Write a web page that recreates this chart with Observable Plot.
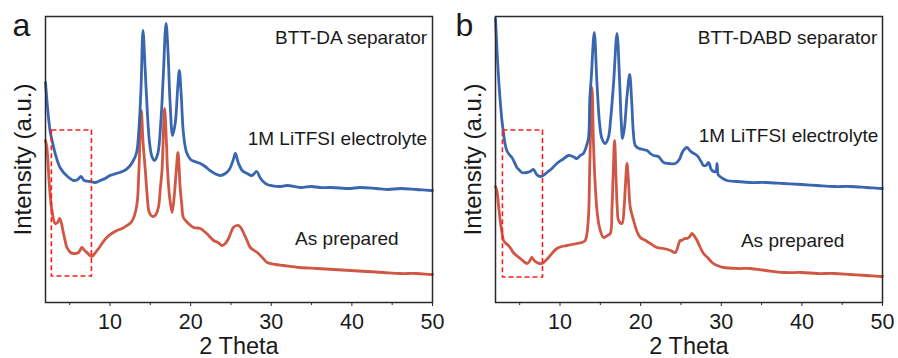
<!DOCTYPE html>
<html>
<head>
<meta charset="utf-8">
<script src="https://cdn.jsdelivr.net/npm/d3@7"></script>
<script src="https://cdn.jsdelivr.net/npm/@observablehq/plot@0.6"></script>
<style>
  html, body { margin: 0; padding: 0; background: #fff; }
  #wrap { display: flex; width: 898px; height: 358px; overflow: hidden; }
  svg { font-family: "Liberation Sans", Arial, sans-serif; }
</style>
</head>
<body>
<div id="wrap"></div>
<script>
// ---- data: [2θ, intensity (a.u.)] ----
const panelLetters = ["a", "b"];
const xTicks = [10, 20, 30, 40, 50];
const xMinorTicks = [5, 15, 25, 35, 45];
const xLabel = "2 Theta";
const yLabel = "Intensity (a.u.)";

// Panel a: BTT-DA separator
const aElectrolyte = [
  [2.0,220],[2.2,200],[2.41,182],[2.6,170],[2.82,162],[3.2,149],[3.8,135],[4.6,127],[5.5,122],[6.0,123],
  [6.4,126],[6.8,122],[7.5,121],[8.2,120],[8.8,122],[9.4,124],[10.0,127],[10.4,128],[11.2,130],[11.8,132],
  [12.4,136],[12.9,142],[13.3,150],[13.6,175],[13.85,215],[14.09,272],[14.35,235],[14.6,195],[14.9,160],
  [15.2,146],[15.5,142],[15.9,148],[16.3,180],[16.6,225],[16.95,279],[17.2,250],[17.45,200],[17.76,167],
  [18.1,180],[18.4,215],[18.6,232],[18.85,205],[19.1,170],[19.5,150],[20.0,143],[20.5,141],[21.2,139],
  [21.8,136],[22.4,132],[23.0,129],[23.7,127],[24.3,129],[24.8,133],[25.3,143],[25.55,149],[25.9,140],
  [26.4,132],[27.0,129],[27.6,127],[28.2,131],[28.6,125],[29.0,121],[29.5,118],[30.0,117],[31,116],
  [32,117],[33.6,115],[35,116],[36,115],[37.5,115],[39.8,114],[41,115],[43,114],[44.5,113],[46,114],
  [48,113],[49.7,112],[50,112]
];
const aAsPrepared = [
  [2.0,162],[2.17,155],[2.5,115],[2.8,92],[3.2,79],[3.5,80],[3.74,84],[3.95,80],[4.16,72],[4.4,63],
  [4.66,55],[5.1,50],[5.48,49],[6.1,50],[6.52,55],[6.85,52],[7.14,50],[7.5,47],[7.76,46],[8.1,49],
  [8.58,54],[9.1,60],[9.6,65],[10.2,69],[10.86,72],[11.5,74],[12.1,77],[12.6,80],[12.9,84],[13.2,92],
  [13.4,102],[13.6,135],[13.88,192],[14.1,160],[14.38,132],[14.6,108],[14.8,92],[15.0,88],[15.3,86],
  [15.6,87],[16.0,95],[16.25,115],[16.45,132],[16.77,194],[17.0,160],[17.14,132],[17.4,105],[17.7,90],
  [17.95,105],[18.2,130],[18.43,150],[18.7,115],[18.9,98],[19.1,85],[19.6,80],[20.37,75],[21.2,74],
  [22.0,69],[22.85,62],[23.4,60],[23.9,57],[24.3,59],[24.7,64],[25.0,70],[25.3,75],[25.7,77],[25.96,77],
  [26.3,74],[26.6,69],[27.0,62],[27.4,55],[27.9,52],[28.4,49],[29.0,44],[29.5,40],[30.5,38],[31.5,37],
  [33.5,35],[35.7,34],[37.8,33],[39.8,32],[41.9,31],[43.9,30],[46,29],[48,29],[49.7,28],[50,28]
];
// Panel b: BTT-DABD separator
const bElectrolyte = [
  [2.0,284],[2.2,250],[2.4,222],[2.58,202],[2.8,182],[3.0,169],[3.2,158],[3.4,152],[3.7,148],[4.04,145],
  [4.3,141],[4.66,135],[5.0,132],[5.28,130],[5.9,130],[6.3,131],[6.72,133],[7.1,128],[7.55,126],[7.9,127],
  [8.38,130],[9.0,134],[9.6,139],[10.3,143],[11.06,147],[11.6,146],[12.1,144],[12.5,147],[12.9,149],
  [13.3,157],[13.54,165],[13.7,204],[13.88,225],[14.25,270],[14.58,220],[14.9,180],[15.2,164],[15.6,159],
  [16.0,165],[16.3,185],[16.65,220],[17.07,269],[17.4,220],[17.6,180],[17.76,164],[18.0,175],[18.3,205],
  [18.64,228],[18.9,200],[19.1,170],[19.34,157],[19.8,154],[20.3,153],[20.8,152],[21.2,149],[21.6,147],
  [22.2,146],[22.85,140],[23.5,139],[24.3,139],[24.8,143],[25.1,149],[25.4,153],[25.76,155],[26.1,152],
  [26.38,150],[27.0,147],[27.5,141],[27.8,137],[28.1,137],[28.44,140],[28.7,134],[28.86,132],[29.3,131],
  [29.48,139],[29.6,128],[29.7,127],[30.2,124],[30.7,122],[32,121],[33.6,120],[35.5,120],[37.75,119],
  [40,118],[41.9,117],[44,116],[46,116],[48,115],[49.75,114],[50,114]
];
const bAsPrepared = [
  [2.0,116],[2.17,112],[2.4,95],[2.58,82],[2.8,70],[3.0,62],[3.3,59],[3.6,57],[3.9,54],[4.2,50],[4.6,47],
  [5.07,44],[5.5,41],[5.9,39],[6.2,41],[6.5,45],[6.8,42],[7.14,40],[7.5,39],[7.76,39],[8.1,41],[8.58,45],
  [9.1,50],[9.62,54],[10.2,56],[10.86,57],[11.5,58],[12.1,59],[12.7,60],[13.13,62],[13.5,82],[13.7,140],
  [13.97,215],[14.15,160],[14.35,120],[14.59,92],[14.9,75],[15.4,65],[15.9,67],[16.24,69],[16.45,95],
  [16.6,130],[16.77,162],[16.95,125],[17.1,95],[17.27,82],[17.69,79],[17.95,95],[18.1,115],[18.31,139],
  [18.5,120],[18.72,95],[19.13,82],[19.5,72],[19.96,65],[20.6,62],[21.2,59],[22.0,55],[22.85,54],
  [23.7,52],[24.3,50],[24.9,62],[25.1,62],[25.45,64],[25.76,64],[26.1,66],[26.38,69],[26.7,66],[27.0,62],
  [27.4,55],[27.8,49],[28.3,45],[28.86,40],[29.5,37],[30.3,35],[32,34],[33.6,34],[35.5,32],[37.75,30],
  [40,30],[41.9,29],[44,29],[46,28],[48,27],[49.75,26],[50,26]
];
const aLabels = ["BTT-DA separator", "1M LiTFSI electrolyte", "As prepared"];
const bLabels = ["BTT-DABD separator", "1M LiTFSI electrolyte", "As prepared"];
const aLabelPos = [[49.34,264.5],[49.34,164],[45.8,64]];
const bLabelPos = [[49.35,265],[49.47,167],[45.28,62]];
const aBox = [2.79, 7.76, 26, 172];
const bBox = [2.92, 7.89, 25, 172];

const blue = "#2e5eaa";
const red = "#cc4e3a";
const textColor = "#1a1a1a";

function panel(letter, electrolyte, prepared, labels, labelPos, box, ml, mr, width, letterDx) {
  const toRows = (arr) => arr.map(([x, y]) => ({x, y}));
  const lbl = labels.map((t, i) => ({t, x: labelPos[i][0], y: labelPos[i][1]}));
  return Plot.plot({
    width, height: 358,
    marginLeft: ml, marginRight: mr, marginTop: 16, marginBottom: 56,
    x: {domain: [2, 50]},
    y: {domain: [0, 286], axis: null},
    style: {fontFamily: '"Liberation Sans", Arial, sans-serif', color: textColor, background: "#fff"},
    marks: [
      Plot.line(toRows(prepared), {x: "x", y: "y", stroke: red, strokeWidth: 2.8, curve: "catmull-rom", strokeOpacity: 0.95}),
      Plot.line(toRows(electrolyte), {x: "x", y: "y", stroke: blue, strokeWidth: 2.8, curve: "catmull-rom", strokeOpacity: 0.95}),
      Plot.rect([{x1: box[0], x2: box[1], y1: box[2], y2: box[3]}], {x1: "x1", x2: "x2", y1: "y1", y2: "y2", fill: "none", stroke: "#ff1e1e", strokeWidth: 1.6, strokeDasharray: "5,3"}),
      Plot.frame({stroke: "#2a2a2a", strokeWidth: 1.5}),
      Plot.axisX({ticks: xTicks, tickSize: 4, tickPadding: 7, fontSize: 21.5, label: null, stroke: "#2a2a2a"}),
      Plot.axisX({ticks: xMinorTicks, tickSize: 3, tickFormat: () => "", label: null, stroke: "#2a2a2a"}),
      Plot.text(lbl, {x: "x", y: "y", text: "t", textAnchor: "end", lineAnchor: "middle", fontSize: 19, fill: textColor}),
      Plot.text([xLabel], {frameAnchor: "bottom", dy: 44, lineAnchor: "middle", fontSize: 23.5, fill: textColor}),
      Plot.text([yLabel], {frameAnchor: "left", dx: -22, rotate: -90, textAnchor: "middle", lineAnchor: "middle", fontSize: 24, fill: textColor}),
      Plot.text([letter], {frameAnchor: "top-left", dx: letterDx, dy: 9, textAnchor: "start", lineAnchor: "middle", fontSize: 32, fill: textColor})
    ]
  });
}

const wrap = document.getElementById("wrap");
wrap.appendChild(panel(panelLetters[0], aElectrolyte, aAsPrepared, aLabels, aLabelPos, aBox, 45, 17, 449, -33));
wrap.appendChild(panel(panelLetters[1], bElectrolyte, bAsPrepared, bLabels, bLabelPos, bBox, 46, 16, 449, -40));
</script>
</body>
</html>
